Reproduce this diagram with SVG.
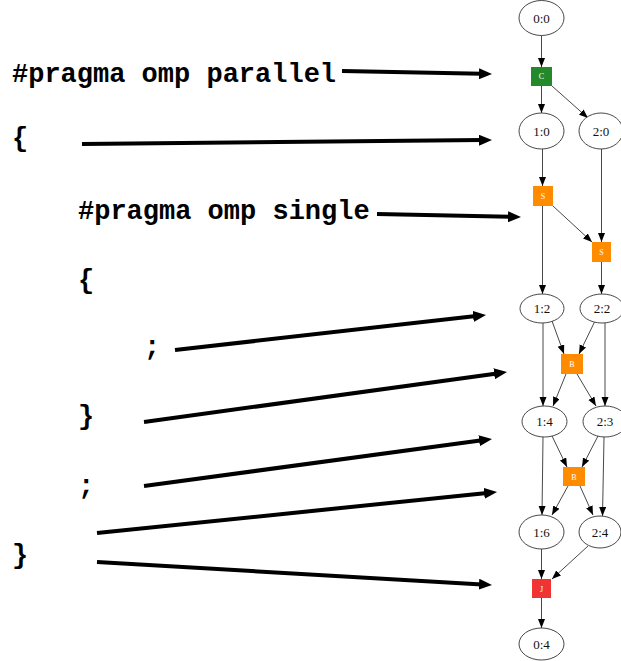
<svg xmlns="http://www.w3.org/2000/svg" width="621" height="661" viewBox="0 0 621 661">
  <style>
    .code { font-family: "Liberation Mono", "Courier New", monospace; font-weight: bold; font-size: 27px; fill: #000; }
    .ptr { stroke: #000; stroke-width: 4; fill: none; marker-end: url(#bigHead); }
    .edge { stroke: #333; stroke-width: 0.9; fill: none; marker-end: url(#smallHead); }
    .task ellipse { fill: #fff; stroke: #333; stroke-width: 0.9; }
    .task text { font-family: "Liberation Serif", "Times New Roman", serif; font-size: 13px; fill: #111; text-anchor: middle; }
    .sync text { font-family: "Liberation Serif", "Times New Roman", serif; font-size: 8px; fill: #fff; text-anchor: middle; }
    .green { fill: #23892a; }
    .orange { fill: #ff8c00; }
    .red { fill: #f03434; }
  </style>
  <defs>
    <marker id="bigHead" markerUnits="userSpaceOnUse" markerWidth="14" markerHeight="11" refX="3" refY="5.5" orient="auto">
      <path d="M0,0 L13,5.5 L0,11 z" fill="#000"/>
    </marker>
    <marker id="smallHead" markerUnits="userSpaceOnUse" markerWidth="10" markerHeight="8" refX="9" refY="3.5" orient="auto">
      <path d="M0,0 L9,3.5 L0,7 z" fill="#000"/>
    </marker>
  </defs>
  <rect width="621" height="661" fill="#fff"/>

  <!-- source code listing -->
  <g id="code">
    <text class="code" x="12" y="82">#pragma omp parallel</text>
    <text class="code" x="12" y="146">{</text>
    <text class="code" x="78" y="219">#pragma omp single</text>
    <text class="code" x="78" y="288">{</text>
    <text class="code" x="144" y="355">;</text>
    <text class="code" x="78" y="424">}</text>
    <text class="code" x="78" y="494">;</text>
    <text class="code" x="12" y="563">}</text>
  </g>

  <!-- pointers from code lines to the graph -->
  <g id="pointers">
    <line class="ptr" x1="342" y1="71" x2="482" y2="73.8"/>
    <line class="ptr" x1="82" y1="144" x2="482" y2="140.1"/>
    <line class="ptr" x1="377" y1="214" x2="511" y2="216.8"/>
    <line class="ptr" x1="175" y1="350" x2="476.1" y2="316.1"/>
    <line class="ptr" x1="144" y1="422" x2="497.1" y2="373.4"/>
    <line class="ptr" x1="144" y1="486" x2="482.1" y2="440.3"/>
    <line class="ptr" x1="97" y1="533" x2="487.1" y2="493"/>
    <line class="ptr" x1="97" y1="562" x2="482" y2="584.4"/>
  </g>

  <!-- task graph edges -->
  <g id="connectors">
    <line class="edge" x1="541.5" y1="35" x2="541.5" y2="67"/>
    <line class="edge" x1="541.5" y1="86" x2="541.5" y2="113"/>
    <line class="edge" x1="552" y1="86" x2="588" y2="118"/>
    <line class="edge" x1="542.5" y1="149" x2="542.5" y2="186"/>
    <line class="edge" x1="601.5" y1="149" x2="601.5" y2="242"/>
    <line class="edge" x1="553" y1="206" x2="592" y2="242"/>
    <line class="edge" x1="542.5" y1="206" x2="542.5" y2="294"/>
    <line class="edge" x1="601.5" y1="262" x2="601.5" y2="294"/>
    <line class="edge" x1="543" y1="323" x2="543" y2="406"/>
    <line class="edge" x1="552" y1="321" x2="564" y2="354"/>
    <line class="edge" x1="595" y1="321" x2="579" y2="354"/>
    <line class="edge" x1="605" y1="323" x2="605" y2="406"/>
    <line class="edge" x1="566" y1="374" x2="553" y2="406"/>
    <line class="edge" x1="577" y1="374" x2="596" y2="406"/>
    <line class="edge" x1="543" y1="437" x2="542" y2="515"/>
    <line class="edge" x1="552" y1="436" x2="567" y2="467"/>
    <line class="edge" x1="598" y1="436" x2="582" y2="467"/>
    <line class="edge" x1="604" y1="437" x2="602.5" y2="516"/>
    <line class="edge" x1="568" y1="486" x2="552" y2="515"/>
    <line class="edge" x1="580" y1="486" x2="593" y2="515"/>
    <line class="edge" x1="541.5" y1="549" x2="541.5" y2="579"/>
    <line class="edge" x1="588" y1="546" x2="552" y2="579"/>
    <line class="edge" x1="541.5" y1="598" x2="541.5" y2="628"/>
  </g>

  <!-- task nodes -->
  <g id="n0_0" class="task"><ellipse cx="541.5" cy="18" rx="22.5" ry="17.5"/><text x="541.5" y="22.5">0:0</text></g>
  <g id="n1_0" class="task"><ellipse cx="541.5" cy="131" rx="22.5" ry="18"/><text x="541.5" y="135.5">1:0</text></g>
  <g id="n2_0" class="task"><ellipse cx="601" cy="131" rx="22" ry="18"/><text x="601" y="135.5">2:0</text></g>
  <g id="n1_2" class="task"><ellipse cx="542" cy="308.5" rx="22" ry="14.5"/><text x="542" y="313">1:2</text></g>
  <g id="n2_2" class="task"><ellipse cx="602" cy="308.5" rx="22" ry="14.5"/><text x="602" y="313">2:2</text></g>
  <g id="n1_4" class="task"><ellipse cx="544.5" cy="421.5" rx="22.5" ry="15.5"/><text x="544.5" y="426">1:4</text></g>
  <g id="n2_3" class="task"><ellipse cx="605" cy="421.5" rx="22" ry="15.5"/><text x="605" y="426">2:3</text></g>
  <g id="n1_6" class="task"><ellipse cx="541.5" cy="532" rx="22.5" ry="17"/><text x="541.5" y="536.5">1:6</text></g>
  <g id="n2_4" class="task"><ellipse cx="600" cy="532" rx="21" ry="16"/><text x="600" y="536.5">2:4</text></g>
  <g id="n0_4" class="task"><ellipse cx="541.5" cy="644" rx="22.5" ry="16"/><text x="541.5" y="648.5">0:4</text></g>

  <!-- synchronisation nodes -->
  <g id="create" class="sync"><rect class="green" x="531" y="67" width="21" height="19"/><text x="541.5" y="79">C</text></g>
  <g id="single1" class="sync"><rect class="orange" x="533" y="186" width="20" height="20"/><text x="543" y="199">S</text></g>
  <g id="single2" class="sync"><rect class="orange" x="592" y="242" width="19" height="20"/><text x="601.5" y="255">S</text></g>
  <g id="barrier1" class="sync"><rect class="orange" x="561" y="354" width="22" height="20"/><text x="572" y="367">B</text></g>
  <g id="barrier2" class="sync"><rect class="orange" x="563" y="467" width="22" height="19"/><text x="574" y="479.5">B</text></g>
  <g id="join" class="sync"><rect class="red" x="532" y="579" width="19" height="19"/><text x="541.5" y="591.5">J</text></g>
</svg>
